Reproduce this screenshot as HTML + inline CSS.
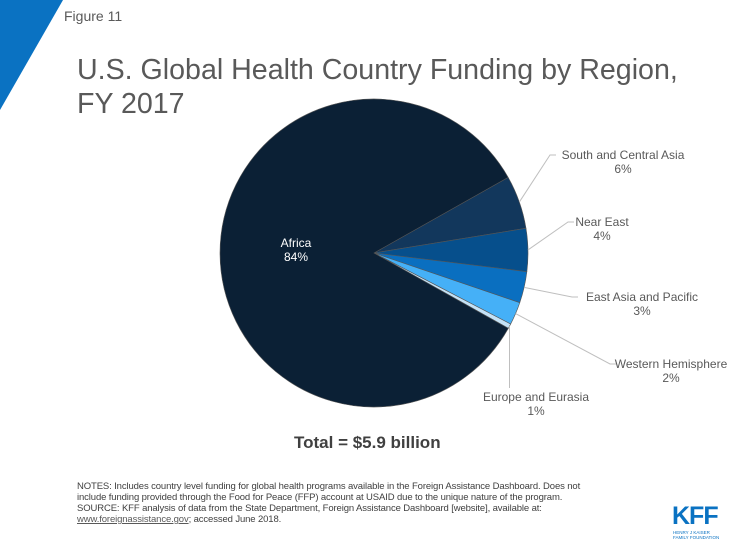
<!DOCTYPE html>
<html><head><meta charset="utf-8"><style>
body{margin:0;background:#fff;font-family:"Liberation Sans",sans-serif;}
#wrap{position:relative;width:735px;height:551px;overflow:hidden;}
.t{position:absolute;color:#595959;}
</style></head><body>
<div id="wrap">
<svg width="735" height="551" style="position:absolute;left:0;top:0">
<polygon points="0,0 63,0 0,110" fill="#0a72c2"/>
<g id="pie"></g>
<g id="labels"></g>
</svg>
<div class="t" style="left:64px;top:8px;font-size:14px">Figure 11</div>
<div class="t" style="left:77px;top:53px;font-size:28.6px;line-height:34px">U.S. Global Health Country Funding by Region,<br>FY 2017</div>
<div class="t" style="left:294px;top:433px;font-size:17px;font-weight:bold;color:#404040">Total = $5.9 billion</div>
<div class="t" style="left:77px;top:481px;font-size:9.5px;line-height:11px;color:#404040;width:560px;letter-spacing:-0.12px">NOTES: Includes country level funding for global health programs available in the Foreign Assistance Dashboard. Does not<br>include funding provided through the Food for Peace (FFP) account at USAID due to the unique nature of the program.<br>SOURCE: KFF analysis of data from the State Department, Foreign Assistance Dashboard [website], available at:<br><span style="text-decoration:underline;color:#595959">www.foreignassistance.gov</span>; accessed June 2018.</div>
<div style="position:absolute;left:672px;top:504px;font-size:25px;font-weight:bold;color:#0a72c2;letter-spacing:-1px;line-height:25px">KFF</div>
<div style="position:absolute;left:673px;top:530px;font-size:4.5px;color:#0a72c2;line-height:5px">HENRY J KAISER<br>FAMILY FOUNDATION</div>
</div>
<script>
const categories=["South and Central Asia","Near East","East Asia and Pacific","Western Hemisphere","Europe and Eurasia","Africa"];
const values=[5.6,4.5,3.3,2.4,0.5,83.7];
const pctLabels=["6%","4%","3%","2%","1%","84%"];
const colors=["#12375c","#064f8c","#0a6fc0","#45b0f7","#c4e2f7","#0b2035"];
const cx=374,cy=253,r=154,start=60.6;
const ns="http://www.w3.org/2000/svg";
const pie=document.getElementById('pie'),lab=document.getElementById('labels');
const total=values.reduce((a,b)=>a+b,0);
function pt(a,rr){const t=(a-90)*Math.PI/180;return [cx+rr*Math.cos(t),cy+rr*Math.sin(t)];}
const labelPos=[[623,159],[602,226],[642,301],[671,368],[536,401],[296,247]];
let a=start;
values.forEach((v,i)=>{
  const s=v/total*360,a2=a+s;
  const p1=pt(a,r),p2=pt(a2,r);
  const path=document.createElementNS(ns,'path');
  path.setAttribute('d',`M${cx},${cy}L${p1[0]},${p1[1]}A${r},${r} 0 ${s>180?1:0} 1 ${p2[0]},${p2[1]}Z`);
  path.setAttribute('fill',colors[i]);path.setAttribute('stroke','#555');path.setAttribute('stroke-width','0.6');
  
  
  pie.appendChild(path);
  const [lx,ly]=labelPos[i];
  if(i<5){
    const m=pt(a+s/2,r);
    const ln=document.createElementNS(ns,'polyline');
    const tw=categories[i].length*3.0;
    const ey=ly-4;
    if(i==4)ln.setAttribute('points',`${m[0]},${m[1]} ${m[0]},${ly-13}`);
    else ln.setAttribute('points',`${m[0]},${m[1]} ${lx-tw-7},${ey} ${lx-tw-1},${ey}`);
    ln.setAttribute('fill','none');ln.setAttribute('stroke','#bfbfbf');ln.setAttribute('stroke-width','1');
    
    
    lab.appendChild(ln);
  }
  [categories[i],pctLabels[i]].forEach((tx,j)=>{
    const t=document.createElementNS(ns,'text');
    t.setAttribute('x',lx);t.setAttribute('y',ly+j*14);
    t.setAttribute('text-anchor','middle');t.setAttribute('font-size','12');
    t.setAttribute('fill',i==5?'#fff':'#595959');
    t.setAttribute('font-family','Liberation Sans, sans-serif');
    t.textContent=tx;
    
    
    lab.appendChild(t);
  });
  a=a2;
});
</script>
</body></html>
